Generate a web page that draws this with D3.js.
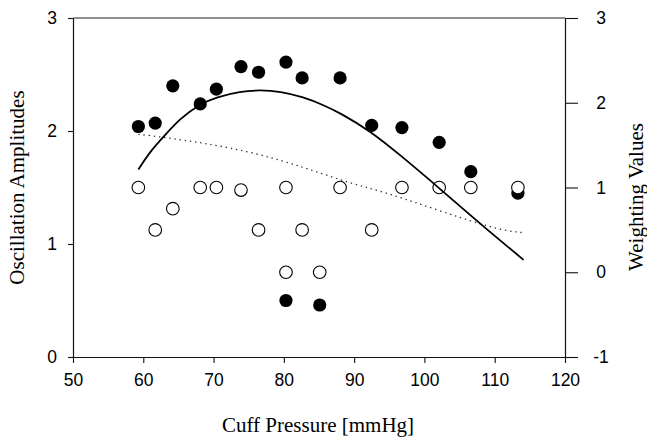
<!DOCTYPE html>
<html>
<head>
<meta charset="utf-8">
<script src="https://cdn.jsdelivr.net/npm/d3@7"></script>
<style>
  body { margin: 0; background: #fff; }
  .tick text { font-family: Arial, "Liberation Sans", sans-serif; font-size: 17.5px; fill: #000; }
  .axis-title { font-family: "Times New Roman", "Liberation Serif", serif; font-size: 21px; fill: #000; }
</style>
</head>
<body>
<svg class="chart"></svg>
<script>
// measured cuff pressure steps
const pressure  = [59.3, 61.7, 64.2, 68.1, 70.4, 73.9, 76.4, 80.3, 80.3, 82.6, 85.1, 88.0, 92.5, 96.8, 102.1, 106.6, 113.3];
// oscillation amplitudes (left axis, filled circles)
const amplitude = [2.04, 2.07, 2.40, 2.24, 2.37, 2.57, 2.52, 2.61, 0.50, 2.47, 0.46, 2.47, 2.05, 2.03, 1.90, 1.64, 1.45];
// weighting values (right axis, open circles)
const weights   = [1.00, 0.50, 0.75, 1.00, 1.00, 0.97, 0.50, 1.00, 0.00, 0.50, 0.00, 1.00, 0.50, 1.00, 1.00, 1.00, 1.00];

// fitted envelope (solid line)
const fitX = [59.3, 61.0, 62.9, 65.2, 68.1, 70.4, 73.8, 76.6, 79.5, 82.8, 85.6, 88.0, 92.3, 96.5, 102.2, 107.9, 114.1];
const fitY = [1.66, 1.82, 1.95, 2.11, 2.24, 2.30, 2.35, 2.363, 2.35, 2.30, 2.23, 2.16, 2.00, 1.79, 1.49, 1.18, 0.86];

// unweighted trend (dotted line)
const trendX = [59.3, 63.3, 75.9, 88.0, 95.6, 107.9, 114.1];
const trendY = [1.97, 1.94, 1.80, 1.57, 1.43, 1.18, 1.10];

const xTicks = [50, 60, 70, 80, 90, 100, 110, 120];
const leftTicks = [0, 1, 2, 3];
const rightTicks = [-1, 0, 1, 2, 3];

const W = 647, H = 439;
const margin = {top: 18, right: 82, bottom: 82, left: 73};
const w = W - margin.left - margin.right;
const h = H - margin.top - margin.bottom;

const svg = d3.select('svg.chart').attr('width', W).attr('height', H);
const g = svg.append('g').attr('transform', `translate(${margin.left},${margin.top})`);

const x = d3.scaleLinear().domain([50, 120]).range([0, w]);
const yL = d3.scaleLinear().domain([0, 3]).range([h, 0]);
const yR = d3.scaleLinear().domain([-1, 3]).range([h, 0]);

// top frame line
g.append('line')
    .attr('x1', 0).attr('x2', w)
    .attr('y1', 0).attr('y2', 0)
    .attr('stroke', '#222').attr('stroke-width', 1.2);

const xAxis = g.append('g')
    .attr('transform', `translate(0,${h})`)
    .call(d3.axisBottom(x).tickValues(xTicks).tickSize(6).tickPadding(11).tickSizeOuter(0));

const leftAxis = g.append('g')
    .call(d3.axisLeft(yL).tickValues(leftTicks).tickSize(5).tickPadding(11).tickSizeOuter(0).tickFormat(d3.format('d')));

const rightAxis = g.append('g')
    .attr('transform', `translate(${w},0)`)
    .call(d3.axisRight(yR).tickValues(rightTicks).tickSize(13).tickPadding(18).tickSizeOuter(0)
        .tickFormat(d => d < 0 ? '-' + Math.abs(d) : d));

[xAxis, leftAxis, rightAxis].forEach(a => {
    a.select('.domain').attr('stroke', '#111').attr('stroke-width', 1.2);
    a.selectAll('.tick line').attr('stroke', '#111').attr('stroke-width', 1.1);
});
rightAxis.selectAll('.tick text').attr('text-anchor', 'middle').attr('x', 36);

// filled circles: amplitudes
const pts = pressure.map((p, i) => ({p, a: amplitude[i], wv: weights[i]}));

g.append('g').selectAll('circle')
    .data(pts)
    .enter().append('circle')
    .attr('cx', d => x(d.p))
    .attr('cy', d => yL(d.a))
    .attr('r', 6.6)
    .attr('fill', '#000');

// open circles: weights
g.append('g').selectAll('circle')
    .data(pts)
    .enter().append('circle')
    .attr('cx', d => x(d.p))
    .attr('cy', d => yR(d.wv))
    .attr('r', 6.3)
    .attr('fill', '#fff')
    .attr('stroke', '#000')
    .attr('stroke-width', 1.1);

const smoothLine = d3.line()
    .x(d => x(d[0]))
    .y(d => yL(d[1]))
    .curve(d3.curveBasis);

g.append('path')
    .datum(trendX.map((v, i) => [v, trendY[i]]))
    .attr('d', smoothLine.curve(d3.curveNatural))
    .attr('fill', 'none')
    .attr('stroke', '#333')
    .attr('stroke-width', 1.3)
    .attr('stroke-dasharray', '1.4 3.8');

g.append('path')
    .datum(fitX.map((v, i) => [v, fitY[i]]))
    .attr('d', smoothLine.curve(d3.curveBasis))
    .attr('fill', 'none')
    .attr('stroke', '#000')
    .attr('stroke-width', 1.8);

// axis titles
svg.append('text')
    .attr('class', 'axis-title')
    .attr('x', margin.left + w / 2 - 1)
    .attr('y', 432)
    .attr('text-anchor', 'middle')
    .text('Cuff Pressure [mmHg]');

svg.append('text')
    .attr('class', 'axis-title')
    .attr('transform', `translate(24,${margin.top + h / 2}) rotate(-90)`)
    .attr('text-anchor', 'middle')
    .text('Oscillation Amplitudes');

svg.append('text')
    .attr('class', 'axis-title')
    .attr('transform', `translate(643,197) rotate(-90)`)
    .attr('text-anchor', 'middle')
    .text('Weighting Values');
</script>
</body>
</html>
